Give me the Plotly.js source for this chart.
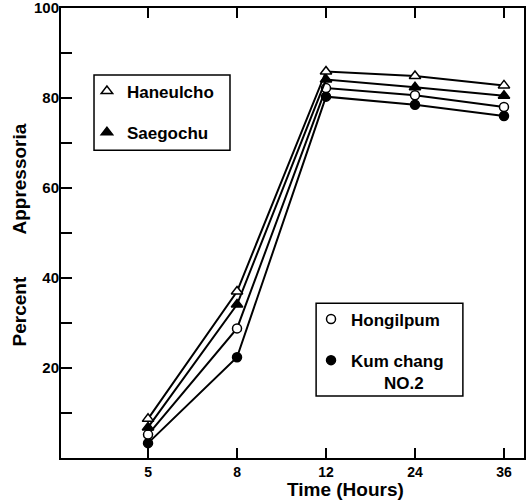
<!DOCTYPE html>
<html>
<head>
<meta charset="utf-8">
<script src="https://cdn.plot.ly/plotly-3.0.1.min.js"></script>
<style>html,body{margin:0;padding:0;background:#fff}#chart{width:528px;height:501px}</style>
</head>
<body>
<div id="chart"></div>
<script>
// Data
const times = ['5', '8', '12', '24', '36'];
const haneulcho = [8.7, 37.0, 85.9, 84.9, 82.8];
const saegochu = [6.8, 34.1, 84.1, 82.4, 80.5];
const hongilpum = [5.2, 28.8, 82.2, 80.6, 78.0];
const kumchang = [3.3, 22.4, 80.3, 78.5, 76.0];
const yTickVals = [0, 10, 20, 30, 40, 50, 60, 70, 80, 90, 100];
const yTickText = ['', '', '20', '', '40', '', '60', '', '80', '', '100'];
const yRightTicks = [20, 40, 60, 80];

const FONT = 'Liberation Sans, Arial, sans-serif';

function mk(symbol, fill) {
  return {symbol: symbol, size: symbol.indexOf('triangle') === 0 ? 10 : 9,
          color: fill, line: {color: 'black', width: 1.5}};
}
function mainTrace(name, y, marker) {
  return {x: times, y: y, type: 'scatter', mode: 'lines+markers', name: name,
          line: {color: 'black', width: 2}, marker: marker, showlegend: false};
}
function legendTrace(name, marker, legendId, group) {
  return {x: [null], y: [null], type: 'scatter', mode: 'markers', name: name,
          marker: marker, legend: legendId, legendgroup: group, showlegend: true};
}

const mHan = mk('triangle-up', 'white');
const mSae = mk('triangle-up', 'black');
const mHon = mk('circle', 'white');
const mKum = mk('circle', 'black');

const data = [
  mainTrace('Kum chang NO.2', kumchang, mKum),
  mainTrace('Hongilpum', hongilpum, mHon),
  mainTrace('Saegochu', saegochu, mSae),
  mainTrace('Haneulcho', haneulcho, mHan),
  legendTrace('Haneulcho', mHan, 'legend', 'a'),
  legendTrace('Saegochu', mSae, 'legend', 'b'),
  legendTrace('Hongilpum', mHon, 'legend2', 'c'),
  legendTrace('Kum chang<br>\u00a0\u00a0\u00a0\u00a0\u00a0\u00a0\u00a0NO.2', mKum, 'legend2', 'd')
];

const legendBase = {
  xanchor: 'left', yanchor: 'top', bgcolor: 'rgba(0,0,0,0)', borderwidth: 0,
  font: {family: FONT, size: 17, color: 'black', weight: 'bold'},
  tracegroupgap: 16, traceorder: 'grouped', valign: 'top'
};

const layout = {
  width: 528, height: 501,
  margin: {l: 61, r: 4, t: 8, b: 43},
  paper_bgcolor: 'white', plot_bgcolor: 'white',
  font: {family: FONT, color: 'black'},
  xaxis: {
    type: 'category', categoryorder: 'array', categoryarray: times,
    range: [-0.978, 4.225], showgrid: false, zeroline: false,
    showline: true, linecolor: 'black', linewidth: 2, mirror: 'ticks',
    ticks: 'inside', ticklen: 10, tickwidth: 1.5, tickcolor: 'black',
    tickfont: {family: FONT, size: 14, color: 'black', weight: 'bold'}
  },
  yaxis: {
    range: [0, 100], showgrid: false, zeroline: false,
    showline: true, linecolor: 'black', linewidth: 2, mirror: true,
    tickmode: 'array', tickvals: yTickVals, ticktext: yTickText,
    ticks: 'inside', ticklen: 11, tickwidth: 1.5, tickcolor: 'black',
    ticklabeloverflow: 'allow', ticklabelstandoff: -3,
    tickfont: {family: FONT, size: 15, color: 'black', weight: 'bold'}
  },
  yaxis2: {
    overlaying: 'y', side: 'right', range: [0, 100], showgrid: false, zeroline: false,
    showline: false, tickmode: 'array', tickvals: yRightTicks,
    ticks: 'inside', ticklen: 12, tickwidth: 1.5, tickcolor: 'black', showticklabels: false
  },
  legend: Object.assign({}, legendBase, {x: 0.056, y: 0.8544}),
  legend2: Object.assign({}, legendBase, {x: 0.54, y: 0.3478}),
  shapes: [
    {type: 'rect', xref: 'paper', yref: 'paper', x0: 0.0713, x1: 0.365, y0: 0.684, y1: 0.851,
     line: {color: 'black', width: 1.5}, fillcolor: 'rgba(0,0,0,0)', layer: 'above'},
    {type: 'rect', xref: 'paper', yref: 'paper', x0: 0.551, x1: 0.868, y0: 0.138, y1: 0.344,
     line: {color: 'black', width: 1.5}, fillcolor: 'rgba(0,0,0,0)', layer: 'above'}
  ],
  annotations: [
    {text: 'Percent\u00a0\u00a0\u00a0\u00a0\u00a0\u00a0\u00a0\u00a0Appressoria', textangle: -90,
     xref: 'paper', yref: 'paper', x: -0.0886, y: 0.4967, xanchor: 'center', yanchor: 'middle',
     showarrow: false, font: {family: FONT, size: 19, color: 'black', weight: 'bold'}},
    {text: 'Time (Hours)', xref: 'paper', yref: 'paper', x: 0.6145, y: -0.0689,
     xanchor: 'center', yanchor: 'middle', showarrow: false,
     font: {family: FONT, size: 19, color: 'black', weight: 'bold'}}
  ]
};

Plotly.newPlot('chart', data, layout, {displayModeBar: false, staticPlot: true});
</script>
</body>
</html>
